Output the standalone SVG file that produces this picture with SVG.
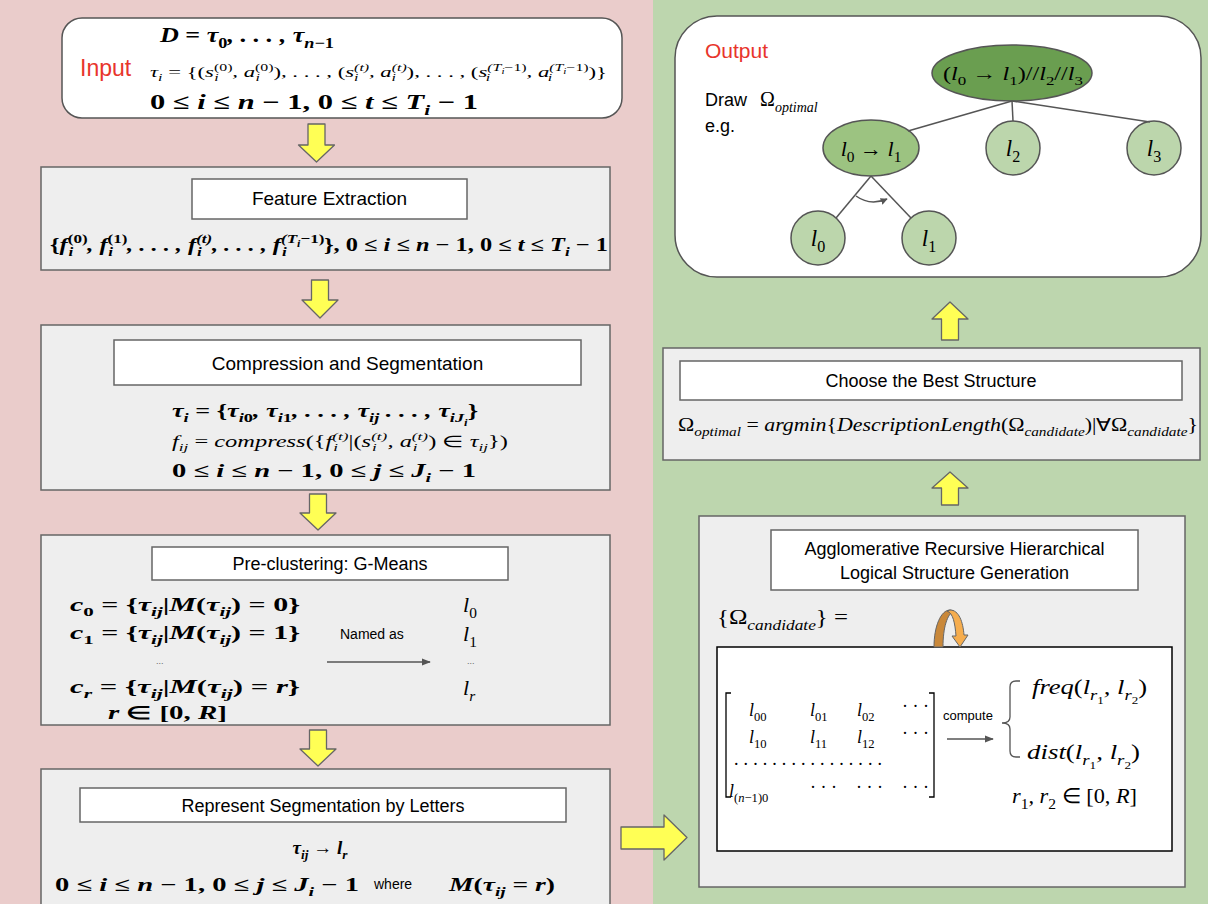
<svg xmlns="http://www.w3.org/2000/svg" width="1208" height="904" viewBox="0 0 1208 904">
<defs>
<style>
.sans{font-family:"Liberation Sans",Arial,sans-serif;fill:#000}
.mi{font-family:"Liberation Serif","Times New Roman",serif;font-style:italic;fill:#000}
.mb{font-family:"Liberation Serif","Times New Roman",serif;font-style:italic;font-weight:bold;fill:#000}
.u{font-style:normal}
.sb{font-size:70%;baseline-shift:-0.4em}
.sp{font-size:70%;baseline-shift:0.6em}
.gbox{fill:#eeeeee;stroke:#666;stroke-width:1.5}
.wbox{fill:#fff;stroke:#666;stroke-width:1.5}
.yarrow{fill:#ffff55;stroke:#666;stroke-width:1.3;stroke-linejoin:round}
.tline{stroke:#555;stroke-width:1.5;fill:none}
.lgc{fill:#bcd6ac;stroke:#555;stroke-width:1.5}
</style>
<marker id="ah" viewBox="0 0 10 10" refX="9" refY="5" markerWidth="7" markerHeight="7" orient="auto" markerUnits="userSpaceOnUse">
<path d="M0,0 L10,5 L0,10 Z" fill="#555"/>
</marker>
<marker id="ah2" viewBox="0 0 10 10" refX="9" refY="5" markerWidth="9" markerHeight="9" orient="auto" markerUnits="userSpaceOnUse">
<path d="M0,1 L10,5 L0,9 Z" fill="#555"/>
</marker>
</defs>

<rect x="0" y="0" width="653" height="904" fill="#eacccb"/>
<rect x="653" y="0" width="555" height="904" fill="#bdd6ae"/>

<g id="input">
<rect x="62" y="18" width="560" height="100" rx="20" fill="#fff" stroke="#555" stroke-width="1.5"/>
<text class="sans" x="80" y="76" font-size="23" style="fill:#e8352b">Input</text>
<text class="mb" x="160" y="42" font-size="21" textLength="174" lengthAdjust="spacingAndGlyphs">D <tspan class="u">=</tspan> τ<tspan class="sb u">0</tspan>, . . . , τ<tspan class="sb">n<tspan class="u">−1</tspan></tspan></text>
<text class="mi" x="150" y="77" font-size="15" textLength="457" lengthAdjust="spacingAndGlyphs">τ<tspan class="sb">i</tspan> <tspan class="u">= {(</tspan>s<tspan class="sp u">(0)</tspan><tspan class="sb" dx="-12">i</tspan><tspan dx="9">, a</tspan><tspan class="sp u">(0)</tspan><tspan class="sb" dx="-12">i</tspan><tspan class="u" dx="9">), . . . , (</tspan>s<tspan class="sp">(t)</tspan><tspan class="sb" dx="-10">i</tspan><tspan dx="7">, a</tspan><tspan class="sp">(t)</tspan><tspan class="sb" dx="-10">i</tspan><tspan class="u" dx="7">), . . . , (</tspan>s<tspan class="sp">(T<tspan class="sb">i</tspan><tspan class="u">−1)</tspan></tspan><tspan class="sb" dx="-27">i</tspan><tspan dx="24">, a</tspan><tspan class="sp">(T<tspan class="sb">i</tspan><tspan class="u">−1)</tspan></tspan><tspan class="sb" dx="-27">i</tspan><tspan class="u" dx="24">)}</tspan></text>
<text class="mb" x="150" y="109" font-size="21" textLength="328" lengthAdjust="spacingAndGlyphs"><tspan class="u">0 ≤</tspan> i <tspan class="u">≤</tspan> n <tspan class="u">− 1, 0 ≤</tspan> t <tspan class="u">≤</tspan> T<tspan class="sb">i</tspan> <tspan class="u">− 1</tspan></text>
</g>

<g id="feature">
<rect class="gbox" x="41" y="167" width="569" height="103"/>
<rect class="wbox" x="192" y="179" width="275" height="40"/>
<text class="sans" x="329.5" y="205" font-size="19" text-anchor="middle">Feature Extraction</text>
<text class="mb" x="50" y="251" font-size="19" textLength="558" lengthAdjust="spacingAndGlyphs"><tspan class="u">{</tspan>f<tspan class="sp u">(0)</tspan><tspan class="sb" dx="-15">i</tspan><tspan dx="11">, f</tspan><tspan class="sp u">(1)</tspan><tspan class="sb" dx="-15">i</tspan><tspan dx="11">, . . . , f</tspan><tspan class="sp">(t)</tspan><tspan class="sb" dx="-12">i</tspan><tspan dx="8">, . . . , f</tspan><tspan class="sp">(T<tspan class="sb">i</tspan><tspan class="u">−1)</tspan></tspan><tspan class="sb" dx="-33">i</tspan><tspan class="u" dx="29">}, 0 ≤</tspan> i <tspan class="u">≤</tspan> n <tspan class="u">− 1, 0 ≤</tspan> t <tspan class="u">≤</tspan> T<tspan class="sb">i</tspan> <tspan class="u">− 1</tspan></text>
</g>

<g id="compression">
<rect class="gbox" x="41" y="325" width="569" height="165"/>
<rect class="wbox" x="114" y="340" width="467" height="45"/>
<text class="sans" x="347.5" y="370" font-size="19" text-anchor="middle">Compression and Segmentation</text>
<text class="mb" x="172" y="417" font-size="19" textLength="306" lengthAdjust="spacingAndGlyphs">τ<tspan class="sb">i</tspan> <tspan class="u">= {</tspan>τ<tspan class="sb">i<tspan class="u">0</tspan></tspan>, τ<tspan class="sb">i<tspan class="u">1</tspan></tspan>, . . . , τ<tspan class="sb">ij</tspan> . . . , τ<tspan class="sb">iJ<tspan class="sb">i</tspan></tspan><tspan class="u">}</tspan></text>
<text class="mi" x="172" y="447" font-size="16" textLength="336" lengthAdjust="spacingAndGlyphs">f<tspan class="sb">ij</tspan> <tspan class="u">=</tspan> compress<tspan class="u">({</tspan>f<tspan class="sp">(t)</tspan><tspan class="sb" dx="-10">i</tspan><tspan class="u" dx="7">|(</tspan>s<tspan class="sp">(t)</tspan><tspan class="sb" dx="-10">i</tspan><tspan dx="7">, a</tspan><tspan class="sp">(t)</tspan><tspan class="sb" dx="-10">i</tspan><tspan class="u" dx="7">) ∈ </tspan>τ<tspan class="sb">ij</tspan><tspan class="u">})</tspan></text>
<text class="mb" x="172" y="477" font-size="19" textLength="304" lengthAdjust="spacingAndGlyphs"><tspan class="u">0 ≤</tspan> i <tspan class="u">≤</tspan> n <tspan class="u">− 1, 0 ≤</tspan> j <tspan class="u">≤</tspan> J<tspan class="sb">i</tspan> <tspan class="u">− 1</tspan></text>
</g>

<g id="preclustering">
<rect class="gbox" x="41" y="535" width="569" height="190"/>
<rect class="wbox" x="152" y="547" width="356" height="33"/>
<text class="sans" x="330" y="570" font-size="18" text-anchor="middle">Pre-clustering: G-Means</text>
<text class="mb" x="70" y="611" font-size="18" textLength="230" lengthAdjust="spacingAndGlyphs">c<tspan class="sb u">0</tspan> <tspan class="u">= {</tspan>τ<tspan class="sb">ij</tspan><tspan class="u">|</tspan>M<tspan class="u">(</tspan>τ<tspan class="sb">ij</tspan><tspan class="u">) = 0}</tspan></text>
<text class="mb" x="70" y="639" font-size="18" textLength="230" lengthAdjust="spacingAndGlyphs">c<tspan class="sb u">1</tspan> <tspan class="u">= {</tspan>τ<tspan class="sb">ij</tspan><tspan class="u">|</tspan>M<tspan class="u">(</tspan>τ<tspan class="sb">ij</tspan><tspan class="u">) = 1}</tspan></text>
<text class="sans" x="156" y="664" font-size="9" style="fill:#666">...</text>
<text class="mb" x="70" y="693" font-size="18" textLength="230" lengthAdjust="spacingAndGlyphs">c<tspan class="sb">r</tspan> <tspan class="u">= {</tspan>τ<tspan class="sb">ij</tspan><tspan class="u">|</tspan>M<tspan class="u">(</tspan>τ<tspan class="sb">ij</tspan><tspan class="u">) =</tspan> r<tspan class="u">}</tspan></text>
<text class="mb" x="108" y="719" font-size="18" textLength="119" lengthAdjust="spacingAndGlyphs">r <tspan class="u">∈ [0,</tspan> R<tspan class="u">]</tspan></text>
<text class="sans" x="340" y="639" font-size="14">Named as</text>
<text class="mi" x="463" y="612" font-size="22">l<tspan class="sb u">0</tspan></text>
<text class="mi" x="463" y="641" font-size="22">l<tspan class="sb u">1</tspan></text>
<text class="sans" x="467" y="664" font-size="9" style="fill:#666">...</text>
<text class="mi" x="463" y="695" font-size="22">l<tspan class="sb">r</tspan></text>
</g>

<g id="represent">
<rect class="gbox" x="41" y="769" width="569" height="145"/>
<rect class="wbox" x="80" y="788" width="486" height="34"/>
<text class="sans" x="323" y="812" font-size="18" text-anchor="middle">Represent Segmentation by Letters</text>
<text class="mb" x="320" y="854" font-size="19" text-anchor="middle">τ<tspan class="sb">ij</tspan> <tspan class="u">→</tspan> l<tspan class="sb">r</tspan></text>
<text class="mb" x="55" y="891" font-size="19" textLength="304" lengthAdjust="spacingAndGlyphs"><tspan class="u">0 ≤</tspan> i <tspan class="u">≤</tspan> n <tspan class="u">− 1, 0 ≤</tspan> j <tspan class="u">≤</tspan> J<tspan class="sb">i</tspan> <tspan class="u">− 1</tspan></text>
<text class="sans" x="374" y="889" font-size="14">where</text>
<text class="mb" x="449" y="891" font-size="19" textLength="106" lengthAdjust="spacingAndGlyphs">M<tspan class="u">(</tspan>τ<tspan class="sb">ij</tspan> <tspan class="u">=</tspan> r<tspan class="u">)</tspan></text>
</g>

<g id="output">
<rect x="675" y="16" width="526" height="261" rx="42" fill="#fff" stroke="#555" stroke-width="1.5"/>
<text class="sans" x="705" y="58" font-size="21" style="fill:#e8352b">Output</text>
<text class="sans" x="705" y="106" font-size="18">Draw</text>
<text class="mi" x="760" y="106" font-size="20"><tspan class="u">Ω</tspan><tspan class="sb">optimal</tspan></text>
<text class="sans" x="705" y="132" font-size="18">e.g.</text>
</g>

<g id="tree-root">
<ellipse cx="1012" cy="73" rx="80" ry="28" fill="#6a9e50" stroke="#555" stroke-width="1.5"/>
<text class="mi" x="1013" y="80" font-size="19" text-anchor="middle" textLength="140" lengthAdjust="spacingAndGlyphs"><tspan class="u">(</tspan>l<tspan class="sb u">0</tspan><tspan class="u"> → </tspan>l<tspan class="sb u">1</tspan><tspan class="u">)//</tspan>l<tspan class="sb u">2</tspan><tspan class="u">//</tspan>l<tspan class="sb u">3</tspan></text>
</g>
<g id="tree-l0l1">
<ellipse cx="871" cy="148" rx="48" ry="28" fill="#9cc381" stroke="#555" stroke-width="1.5"/>
<text class="mi" x="871" y="156" font-size="22" text-anchor="middle">l<tspan class="sb u">0</tspan> <tspan class="u">→</tspan> l<tspan class="sb u">1</tspan></text>
</g>
<g id="tree-l2">
<circle class="lgc" cx="1013" cy="148" r="27"/>
<text class="mi" x="1013" y="156" font-size="23" text-anchor="middle">l<tspan class="sb u">2</tspan></text>
</g>
<g id="tree-l3">
<circle class="lgc" cx="1154" cy="148" r="27"/>
<text class="mi" x="1154" y="156" font-size="23" text-anchor="middle">l<tspan class="sb u">3</tspan></text>
</g>
<g id="tree-leaf-l0">
<circle class="lgc" cx="818" cy="238" r="27"/>
<text class="mi" x="818" y="246" font-size="23" text-anchor="middle">l<tspan class="sb u">0</tspan></text>
</g>
<g id="tree-leaf-l1">
<circle class="lgc" cx="929" cy="238" r="27"/>
<text class="mi" x="929" y="246" font-size="23" text-anchor="middle">l<tspan class="sb u">1</tspan></text>
</g>

<g id="choose">
<rect class="gbox" x="663" y="348" width="537" height="112"/>
<rect class="wbox" x="680" y="361" width="502" height="39"/>
<text class="sans" x="931" y="387" font-size="18" text-anchor="middle">Choose the Best Structure</text>
<text class="mi" x="678" y="431" font-size="18" textLength="520" lengthAdjust="spacingAndGlyphs"><tspan class="u">Ω</tspan><tspan class="sb">optimal</tspan> <tspan class="u">=</tspan> argmin<tspan class="u">{</tspan>DescriptionLength<tspan class="u">(Ω</tspan><tspan class="sb">candidate</tspan><tspan class="u">)|∀Ω</tspan><tspan class="sb">candidate</tspan><tspan class="u">}</tspan></text>
</g>

<g id="agglomerative">
<rect class="gbox" x="699" y="516" width="486" height="371"/>
<rect class="wbox" x="771" y="530" width="367" height="60"/>
<text class="sans" x="954.5" y="555" font-size="18" text-anchor="middle">Agglomerative Recursive Hierarchical</text>
<text class="sans" x="954.5" y="579" font-size="18" text-anchor="middle">Logical Structure Generation</text>
<text class="mi" x="717" y="624" font-size="22" textLength="131" lengthAdjust="spacingAndGlyphs"><tspan class="u">{Ω</tspan><tspan class="sb">candidate</tspan><tspan class="u">} =</tspan></text>
</g>

<g id="matrix">
<rect x="717" y="647" width="455" height="204" fill="#fff" stroke="#000" stroke-width="1.5"/>
<path d="M731,693 H726 V797 H731 M929,693 H934 V797 H929" fill="none" stroke="#000" stroke-width="1.3"/>
<g class="mi" font-size="18">
<text x="749" y="716">l<tspan class="sb u">00</tspan></text>
<text x="810" y="716">l<tspan class="sb u">01</tspan></text>
<text x="857" y="716">l<tspan class="sb u">02</tspan></text>
<text x="902" y="712" class="u">· · ·</text>
<text x="749" y="743">l<tspan class="sb u">10</tspan></text>
<text x="810" y="743">l<tspan class="sb u">11</tspan></text>
<text x="857" y="743">l<tspan class="sb u">12</tspan></text>
<text x="902" y="739" class="u">· · ·</text>
<text x="734" y="765" class="u" textLength="148" lengthAdjust="spacing">. . . . . . . . . . . . . . . .</text>
<text x="729" y="797">l<tspan class="sb"><tspan class="u">(</tspan>n<tspan class="u">−1)0</tspan></tspan></text>
<text x="810" y="793" class="u">· · ·</text>
<text x="856" y="793" class="u">· · ·</text>
<text x="902" y="793" class="u">· · ·</text>
</g>
<text class="sans" x="943" y="720" font-size="13">compute</text>
<path d="M1020,681 H1016 Q1010,681 1010,687 V717 Q1010,723 1002,723 Q1010,723 1010,729 V751 Q1010,757 1016,757 H1020" fill="none" stroke="#555" stroke-width="1.3"/>
<text class="mi" x="1032" y="694" font-size="21" textLength="115" lengthAdjust="spacingAndGlyphs">freq<tspan class="u">(</tspan>l<tspan class="sb">r<tspan class="sb u">1</tspan></tspan>, l<tspan class="sb">r<tspan class="sb u">2</tspan></tspan><tspan class="u">)</tspan></text>
<text class="mi" x="1027" y="759" font-size="21" textLength="113" lengthAdjust="spacingAndGlyphs">dist<tspan class="u">(</tspan>l<tspan class="sb">r<tspan class="sb u">1</tspan></tspan>, l<tspan class="sb">r<tspan class="sb u">2</tspan></tspan><tspan class="u">)</tspan></text>
<text class="mi" x="1012" y="803" font-size="21" textLength="125" lengthAdjust="spacingAndGlyphs">r<tspan class="sb u">1</tspan>, r<tspan class="sb u">2</tspan> <tspan class="u">∈ [0,</tspan> R<tspan class="u">]</tspan></text>
</g>

<g id="connectors">
<path class="yarrow" d="M308,124 H325 V145 H334.5 L316.5,162 L298.5,145 H308 Z"/>
<path class="yarrow" d="M311.5,280 H328.5 V300 H338 L320,318 L302,300 H311.5 Z"/>
<path class="yarrow" d="M309.5,494 H326.5 V513 H336 L318,530 L300,513 H309.5 Z"/>
<path class="yarrow" d="M309.5,730 H326.5 V749 H336 L318,766 L300,749 H309.5 Z"/>
<path class="yarrow" d="M621,827 H664 V815 L687,837.5 L664,860 V849 H621 Z"/>
<path class="yarrow" d="M950,302 L968,319 H958.5 V340 H941.5 V319 H932 Z"/>
<path class="yarrow" d="M950,472 L968,488 H958.5 V505 H941.5 V488 H932 Z"/>
<line x1="327" y1="662" x2="430" y2="662" stroke="#555" stroke-width="1.3" marker-end="url(#ah2)"/>
<line x1="947" y1="739" x2="993" y2="739" stroke="#555" stroke-width="1.3" marker-end="url(#ah2)"/>
<line class="tline" x1="1012" y1="101" x2="908" y2="131"/>
<line class="tline" x1="1012" y1="101" x2="1013" y2="121"/>
<line class="tline" x1="1012" y1="101" x2="1150" y2="122"/>
<line class="tline" x1="871" y1="176" x2="836" y2="218"/>
<line class="tline" x1="871" y1="176" x2="911" y2="218"/>
<path class="tline" d="M856,196 Q870,206 887,199" marker-end="url(#ah)"/>
<path d="M934,647 C934,626 941,610 950,610 L954,611 C947,614 943,628 943,647 Z" fill="#c9883a" stroke="#666" stroke-width="1"/>
<path d="M950,610 C959,610 963,622 964,635 L968,635 L960,647 L952,636 L956,636 C955,623 953,613 947,611 Z" fill="#f6ad4e" stroke="#666" stroke-width="1"/>
</g>
</svg>
